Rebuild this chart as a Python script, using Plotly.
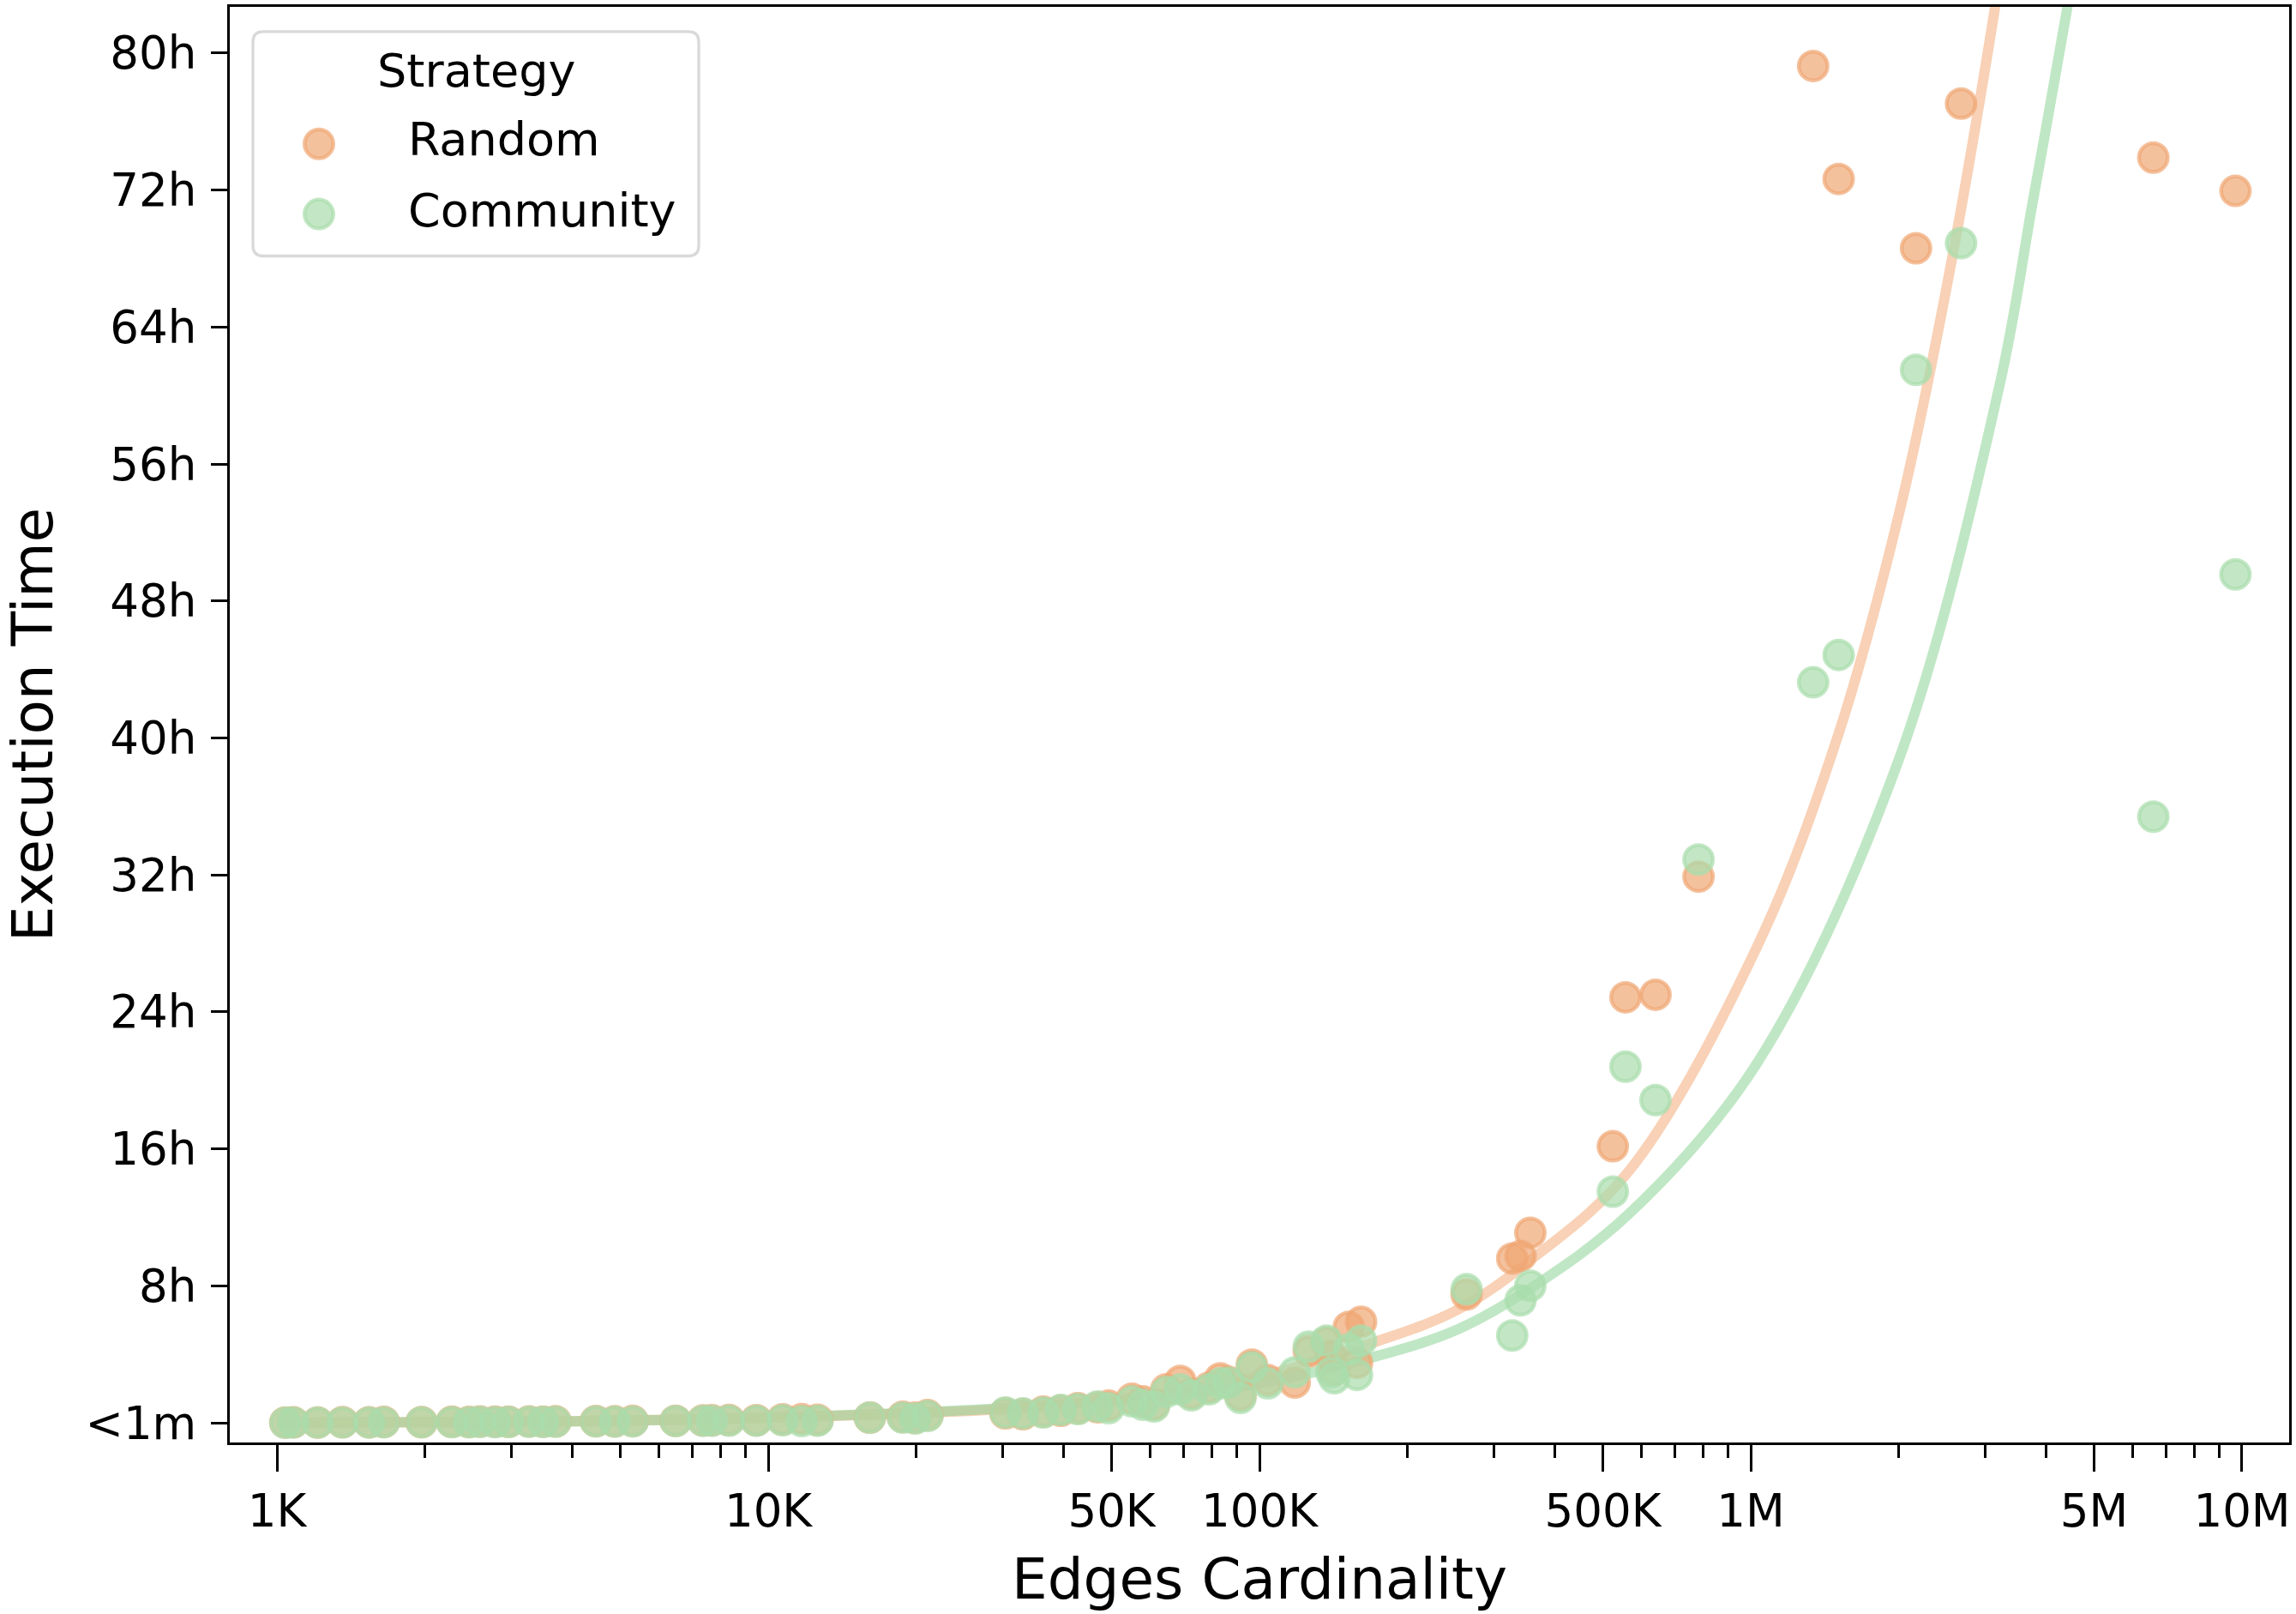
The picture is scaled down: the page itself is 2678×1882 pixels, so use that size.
import plotly.graph_objects as go

# ---------------- data ----------------
edges = [1040, 1080, 1210, 1360, 1540, 1650, 1970, 2270, 2460, 2590, 2780, 2960, 3260, 3480,
         3690, 4460, 4870, 5300, 6480, 7370, 7680, 8320, 9460, 10700, 11700, 12600, 16100,
         18800, 19900, 21100, 30400, 33000, 36300, 39400, 42700, 46800, 49300, 55000, 57900,
         61000, 64600, 69000, 72700, 78900, 83200, 86500, 91500, 96500, 104000, 118000,
         126000, 137000, 140000, 142000, 152000, 158000, 161000, 264000, 327000, 340000,
         356000, 524000, 556000, 640000, 783000, 1340000, 1510000, 2170000, 2680000,
         6600000, 9700000]

random_hours = [0.02, 0.03, 0.02, 0.04, 0.03, 0.05, 0.04, 0.06, 0.05, 0.08, 0.07, 0.06, 0.08, 0.07,
                0.09, 0.10, 0.09, 0.11, 0.12, 0.14, 0.15, 0.17, 0.15, 0.20, 0.22, 0.18, 0.30,
                0.35, 0.30, 0.45, 0.55, 0.50, 0.65, 0.70, 0.85, 0.90, 1.00, 1.40, 1.25,
                1.05, 1.95, 2.45, 1.70, 2.05, 2.60, 2.40, 1.60, 3.40, 2.50, 2.35,
                4.20, 4.70, 3.90, 3.10, 5.60, 3.50, 5.90, 7.50, 9.60, 9.75,
                11.10, 16.15, 24.85, 25.00, 31.90, 79.25, 72.65, 68.60, 77.05,
                73.90, 71.95]

community_hours = [0.00, 0.02, 0.01, 0.02, 0.02, 0.03, 0.03, 0.04, 0.03, 0.05, 0.04, 0.05, 0.06, 0.05,
                   0.06, 0.08, 0.07, 0.08, 0.10, 0.12, 0.12, 0.13, 0.12, 0.15, 0.10, 0.12, 0.30,
                   0.30, 0.25, 0.40, 0.60, 0.55, 0.60, 0.75, 0.80, 0.95, 0.85, 1.25, 1.05,
                   0.95, 1.80, 1.95, 1.60, 1.95, 2.30, 2.35, 1.45, 3.25, 2.30, 2.95,
                   4.45, 4.80, 2.95, 2.60, 4.30, 2.80, 4.80, 7.80, 5.10, 7.15,
                   8.00, 13.50, 20.80, 18.85, 32.90, 43.25, 44.85, 61.50, 68.90,
                   35.40, 49.55]

# fitted trend curves
fit_random_edges = [1000, 3000, 10000, 30000, 60000, 100000, 171000, 253000, 356000, 565000,
                    1030000, 1500000, 2000000, 2500000, 3140000, 3300000]
fit_random_hours = [0.0, 0.05, 0.3, 0.8, 1.6, 2.7, 4.7, 6.6, 9.5, 14.7,
                    27.8, 40.0, 53.0, 66.2, 82.6, 86.8]
fit_community_edges = [1000, 3000, 10000, 30000, 60000, 100000, 171000, 253000, 356000, 565000,
                       1030000, 2000000, 3210000, 3750000, 4410000, 4600000]
fit_community_hours = [0.0, 0.05, 0.3, 0.85, 1.5, 2.3, 3.85, 5.45, 7.85, 12.2,
                       21.0, 38.7, 60.6, 71.3, 82.65, 86.0]

x_tick_vals = [1e3, 1e4, 5e4, 1e5, 5e5, 1e6, 5e6, 1e7]
x_tick_text = ["1K", "10K", "50K", "100K", "500K", "1M", "5M", "10M"]
x_minor_vals = [2e3, 3e3, 4e3, 5e3, 6e3, 7e3, 8e3, 9e3,
                2e4, 3e4, 4e4, 6e4, 7e4, 8e4, 9e4,
                2e5, 3e5, 4e5, 6e5, 7e5, 8e5, 9e5,
                2e6, 3e6, 4e6, 6e6, 7e6, 8e6, 9e6]
y_tick_vals = [0, 8, 16, 24, 32, 40, 48, 56, 64, 72, 80]
y_tick_text = ["<1m", "8h", "16h", "24h", "32h", "40h", "48h", "56h", "64h", "72h", "80h"]

series_names = ["Random", "Community"]

# ---------------- styling ----------------
FONT = "DejaVu Sans"
ORANGE_MK = "rgba(240,167,115,0.70)"
GREEN_MK = "rgba(170,221,172,0.70)"
ORANGE_LN = "rgba(241,167,115,0.52)"
GREEN_LN = "rgba(140,212,150,0.55)"

W, H = 2678, 1882
PL, PR, PT, PB = 268, 2670, 5, 1682


def px_x(px):
    return (px - PL) / (PR - PL)


def px_y(py):
    return (PB - py) / (PB - PT)


fig = go.Figure()

fig.add_trace(go.Scatter(x=fit_random_edges, y=fit_random_hours, mode="lines",
                         line=dict(color=ORANGE_LN, width=12, shape="spline"),
                         showlegend=False, hoverinfo="skip"))
fig.add_trace(go.Scatter(x=fit_community_edges, y=fit_community_hours, mode="lines",
                         line=dict(color=GREEN_LN, width=12, shape="spline"),
                         showlegend=False, hoverinfo="skip"))
fig.add_trace(go.Scatter(x=edges, y=random_hours, mode="markers", name=series_names[0],
                         marker=dict(size=33.5, color=ORANGE_MK,
                                     line=dict(color=ORANGE_MK, width=4.5)),
                         showlegend=False))
fig.add_trace(go.Scatter(x=edges, y=community_hours, mode="markers", name=series_names[1],
                         marker=dict(size=33.5, color=GREEN_MK,
                                     line=dict(color=GREEN_MK, width=4.5)),
                         showlegend=False))

axis_common = dict(showline=True, linecolor="black", linewidth=3.3, mirror=True,
                   ticks="outside", tickcolor="black", tickwidth=3.3,
                   showgrid=False, zeroline=False,
                   tickfont=dict(family=FONT, size=53, color="black"))

fig.update_xaxes(type="log", range=[2.904, 7.096], tickmode="array",
                 tickvals=x_tick_vals, ticktext=x_tick_text, ticklen=31,
                 minor=dict(tickmode="array", tickvals=x_minor_vals, ticks="outside",
                            ticklen=15, tickwidth=3.3, tickcolor="black", showgrid=False),
                 title=dict(text="Edges Cardinality", font=dict(family=FONT, size=66, color="black"),
                            standoff=28),
                 **axis_common)
fig.update_yaxes(range=[-1.15, 82.7], tickmode="array", tickvals=y_tick_vals,
                 ticktext=y_tick_text, ticklen=19, ticklabelstandoff=6,
                 title=dict(text="Execution Time", font=dict(family=FONT, size=66, color="black"),
                            standoff=18),
                 **axis_common)

# ---------------- legend drawn manually (matplotlib-like) ----------------
bx0, by0, bx1, by1, r = 295, 34, 815, 296, 12
path = (f"M {px_x(bx0 + r)} {px_y(by0)} L {px_x(bx1 - r)} {px_y(by0)} "
        f"Q {px_x(bx1)} {px_y(by0)} {px_x(bx1)} {px_y(by0 + r)} "
        f"L {px_x(bx1)} {px_y(by1 - r)} Q {px_x(bx1)} {px_y(by1)} {px_x(bx1 - r)} {px_y(by1)} "
        f"L {px_x(bx0 + r)} {px_y(by1)} Q {px_x(bx0)} {px_y(by1)} {px_x(bx0)} {px_y(by1 - r)} "
        f"L {px_x(bx0)} {px_y(by0 + r)} Q {px_x(bx0)} {px_y(by0)} {px_x(bx0 + r)} {px_y(by0)} Z")
shapes = [dict(type="path", xref="paper", yref="paper", path=path,
               line=dict(color="rgb(217,217,217)", width=3.3), fillcolor="rgba(255,255,255,0.8)",
               layer="above")]
for cy, col in [(165, ORANGE_MK), (247, GREEN_MK)]:
    rad = 16.75
    shapes.append(dict(type="circle", xref="paper", yref="paper",
                       x0=px_x(372 - rad), x1=px_x(372 + rad), y0=px_y(cy + rad), y1=px_y(cy - rad),
                       fillcolor=col, line=dict(color=col, width=4.5), layer="above"))

annotations = [
    dict(text="Strategy", x=px_x(555), y=px_y(80), xref="paper", yref="paper",
         xanchor="center", yanchor="middle", showarrow=False,
         font=dict(family=FONT, size=54, color="black")),
    dict(text=series_names[0], x=px_x(474), y=px_y(160), xref="paper", yref="paper",
         xanchor="left", yanchor="middle", showarrow=False,
         font=dict(family=FONT, size=54, color="black")),
    dict(text=series_names[1], x=px_x(474), y=px_y(243), xref="paper", yref="paper",
         xanchor="left", yanchor="middle", showarrow=False,
         font=dict(family=FONT, size=54, color="black")),
]

fig.update_layout(width=W, height=H, margin=dict(l=PL, r=W - PR, t=PT, b=H - PB),
                  paper_bgcolor="white", plot_bgcolor="white",
                  font=dict(family=FONT, color="black"),
                  shapes=shapes, annotations=annotations, showlegend=False)

fig.write_html("out.html")
